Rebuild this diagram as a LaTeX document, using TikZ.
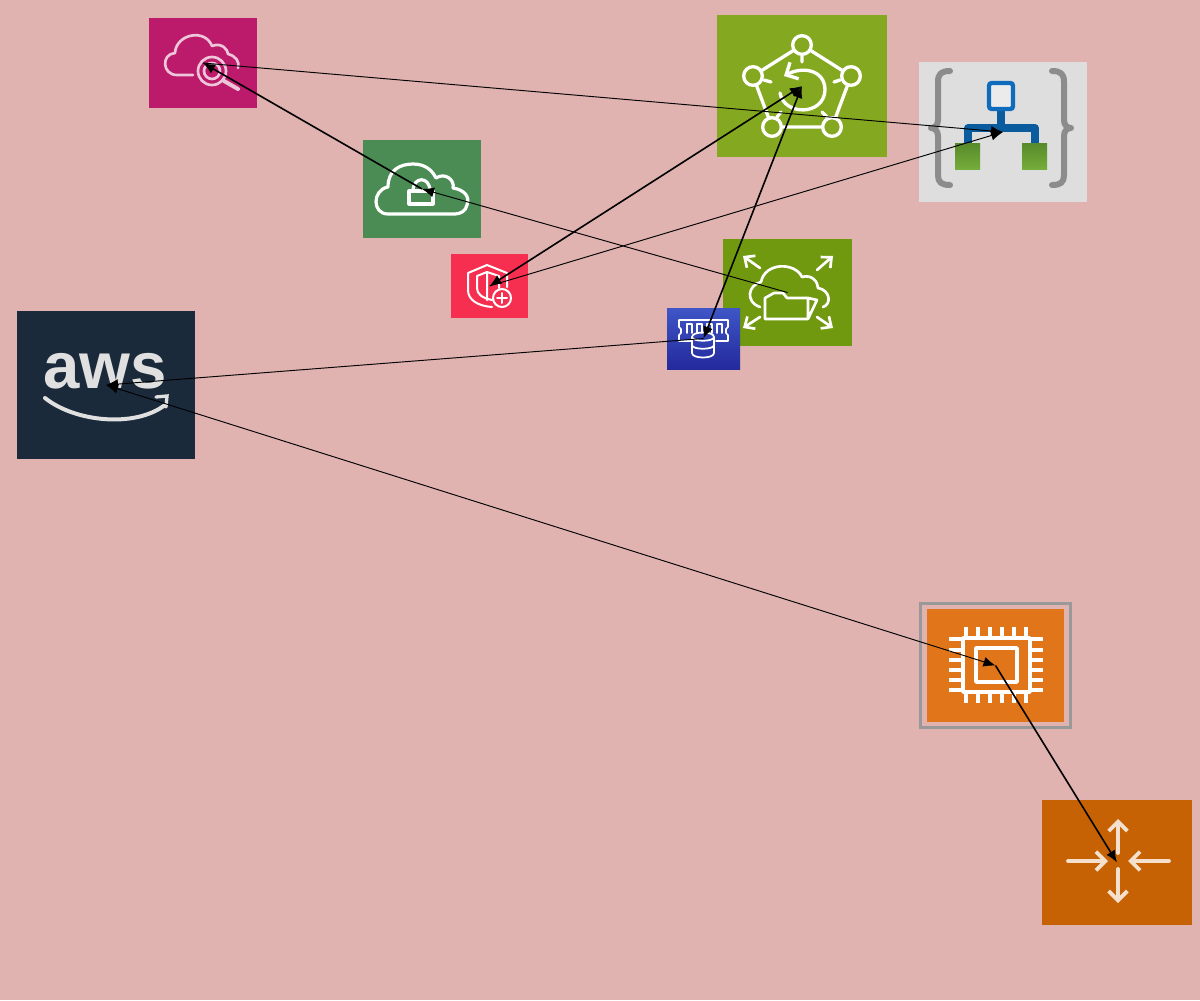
\documentclass[tikz,border=0pt]{standalone}
\usepackage{fontspec}
\usepackage{xcolor}
\usetikzlibrary{arrows, arrows.meta}
\usetikzlibrary{positioning}
\newfontfamily\awsfont{Liberation Sans}
\definecolor{pagepink}{HTML}{E0B2B0}
\definecolor{magentabox}{HTML}{BC1A6A}
\definecolor{lockgreen}{HTML}{4A8C54}
\definecolor{shieldred}{HTML}{F62F50}
\definecolor{limegreen}{HTML}{84A920}
\definecolor{foldergreen}{HTML}{70990F}
\definecolor{awsnavy}{HTML}{1B2A3B}
\definecolor{chiporange}{HTML}{E0751A}
\definecolor{routerorange}{HTML}{C66204}
\definecolor{bracegray}{HTML}{8C8C8C}
\definecolor{treeblue}{HTML}{0A5C9E}
\definecolor{topblue}{HTML}{0F6CBD}
\definecolor{memlow}{HTML}{232A9C}
\definecolor{memhigh}{HTML}{3F56C6}
\definecolor{leaflow}{HTML}{76AC3B}
\definecolor{leafhigh}{HTML}{578A2A}
\tikzset{
	iconbox/.style={inner sep=0pt, outer sep=0pt},
	glyph/.style={draw=white, line width=2pt, line cap=round, line join=round},
	barb/.style={-{Straight Barb[length=7pt,width=14pt]}},
	smallbarb/.style={-{Straight Barb[length=6pt,width=11pt]}},
	thinlink/.style={draw=black, line width=.7pt, -{Latex[length=9pt,width=7.5pt]}},
	thicklink/.style={draw=black, line width=1.2pt, -{Latex[length=9pt,width=7.5pt]}},
	bothlink/.style={draw=black, line width=1.2pt, {Latex[length=9pt,width=7.5pt]}-{Latex[length=9pt,width=7.5pt]}},
}
\begin{document}
\begin{tikzpicture}[x=.75pt,y=-.75pt]
	\useasboundingbox (0,0) rectangle (1200,1000);
	\fill[pagepink] (0,0) rectangle (1200,1000);
	%draw boxes
	\node[iconbox, fill=magentabox, minimum width=81pt, minimum height=67.5pt] (search) at (203,63) {};
	\node[iconbox, fill=lockgreen, minimum width=88.5pt, minimum height=73.5pt] (lockcloud) at (422,189) {};
	\node[iconbox, fill=shieldred, minimum width=57.75pt, minimum height=48pt] (shield) at (489.5,286) {};
	\node[iconbox, fill=limegreen, minimum width=127.5pt, minimum height=106.5pt] (recovery) at (802,86) {};
	\node[iconbox, fill=black!13, minimum width=126pt, minimum height=105pt] (tree) at (1003,132) {};
	\node[iconbox, fill=foldergreen, minimum width=96.75pt, minimum height=80.25pt] (folder) at (787.5,292.5) {};
	\node[iconbox, bottom color=memlow, top color=memhigh, minimum width=54.75pt, minimum height=45.75pt] (memdb) at (703.5,338.5) {};
	\node[iconbox, fill=awsnavy, minimum width=133.5pt, minimum height=111pt] (aws) at (106,385) {};
	\node[iconbox, draw=black!40, line width=2.2pt, minimum width=112.5pt, minimum height=93pt] (ec2) at (995.5,665.5) {};
	\node[iconbox, fill=chiporange, minimum width=102.75pt, minimum height=84.75pt] (ec2core) at (995.5,665.5) {};
	\node[iconbox, fill=routerorange, minimum width=112.5pt, minimum height=93.75pt] (router) at (1117,862.5) {};
	%search glyph
	\begin{scope}[glyph/.append style={draw=magentabox!25!white}]
		\draw[glyph] (193,75) -- (177,75) .. controls (162,75) and (161,54) .. (175,53) .. controls (176,34) and (205,28) .. (212,46) .. controls (222,42) and (228,50) .. (228,54) .. controls (236,56) and (240,62) .. (238,68);
		\draw[glyph] (212,71) circle[radius=10.5pt];
		\draw[glyph] (212,71) circle[radius=6pt];
		\draw[glyph, line width=3pt] (224,81) -- (238,89);
	\end{scope}
	%lock glyph
	\draw[glyph, line width=2.4pt] (388,214) .. controls (372,214) and (372,190) .. (388,187) .. controls (388,170) and (400,164) .. (413,164) .. controls (425,164) and (432,170) .. (436,178) .. controls (445,172) and (455,180) .. (453,188) .. controls (465,190) and (470,197) .. (467,205) .. controls (466,211) and (460,214) .. (455,214) -- cycle;
	\draw[glyph, line width=2.4pt] (409,191) rectangle (433,204);
	\draw[glyph, line width=2.4pt] (413,191) .. controls (413,176) and (430,176) .. (430,191);
	%shield glyph
	\draw[glyph, line width=1.5pt] (507,287) -- (507,273) -- (487,265) -- (468,273) -- (468,290) .. controls (468,300) and (478,306) .. (492,307);
	\draw[glyph, line width=1.5pt] (492,300) .. controls (482,298) and (477,294) .. (477,288) -- (477,276) -- (487,272) -- (487,300);
	\draw[glyph, line width=1.5pt] (487,272) -- (499,276) -- (499,288);
	\draw[glyph, line width=1.5pt] (502,298) circle[radius=6.75pt];
	\draw[glyph, line width=1.5pt] (497,298) -- (507,298) (502,293) -- (502,303);
	%recovery glyph
	\draw[glyph, line width=2.5pt] (802,45) -- (753,76) -- (772,127) -- (832,127) -- (851,76) -- cycle;
	\foreach \px/\py in {802/45,753/76,851/76,772/127,832/127}
		\draw[glyph, line width=2.5pt, fill=limegreen] (\px,\py) circle[radius=7pt];
	\draw[glyph, line width=2.5pt] (802,56) -- (802,62) (764,80) -- (771,82) (840,80) -- (834,82) (777,117) -- (781,112) (827,117) -- (822,112);
	\draw[glyph, line width=2.5pt, barb] (780,93) .. controls (784,116) and (824,116) .. (825,90) .. controls (825,70) and (803,66) .. (784,76);
	%tree glyph
	\draw[bracegray, line width=4.5pt, line join=round, line cap=round] (950,71) .. controls (941,71) and (938,74) .. (938,82) -- (938,120) .. controls (938,125) and (935,128) .. (931,128) .. controls (935,128) and (938,131) .. (938,136) -- (938,175) .. controls (938,182) and (941,185) .. (950,185);
	\draw[bracegray, line width=4.5pt, line join=round, line cap=round] (1052,71) .. controls (1061,71) and (1064,74) .. (1064,82) -- (1064,120) .. controls (1064,125) and (1067,128) .. (1071,128) .. controls (1067,128) and (1064,131) .. (1064,136) -- (1064,175) .. controls (1064,182) and (1061,185) .. (1052,185);
	\draw[treeblue, line width=5.5pt, line join=round] (1001,111) -- (1001,128) (968,143) -- (968,128) -- (1035,128) -- (1035,143);
	\draw[topblue, line width=3.2pt, rounded corners=2pt, fill=black!8] (989,83) rectangle (1013,109);
	\node[iconbox, bottom color=leaflow, top color=leafhigh, minimum width=18.75pt, minimum height=19.5pt] (leftleaf) at (967.5,156) {};
	\node[iconbox, bottom color=leaflow, top color=leafhigh, minimum width=18.75pt, minimum height=19.5pt] (rightleaf) at (1034.5,156) {};
	%folder glyph
	\draw[glyph, smallbarb] (760,268) -- (743,256);
	\draw[glyph, smallbarb] (817,270) -- (833,256);
	\draw[glyph, smallbarb] (760,317) -- (743,328);
	\draw[glyph, smallbarb] (817,317) -- (833,328);
	\draw[glyph] (760,307) .. controls (745,302) and (748,285) .. (761,282) .. controls (765,262) and (795,262) .. (802,277) .. controls (812,274) and (818,282) .. (818,288) .. controls (830,290) and (832,304) .. (823,307);
	\draw[glyph, fill=foldergreen] (765,319) -- (765,298) -- (774,293) -- (783,293) -- (787,298) -- (808,298) -- (808,319) -- cycle (808,319) -- (817,300) -- (808,298);
	%memory glyph
	\draw[glyph, line width=1.2pt] (691,341) -- (679,341) -- (679,335) -- (681,333) -- (681,329) -- (679,327) -- (679,320) -- (728,320) -- (728,327) -- (726,329) -- (726,333) -- (728,335) -- (728,341) -- (716,341);
	\foreach \tx in {687,697,707,717}
		\draw[glyph, line width=1.2pt] (\tx,333) -- (\tx,324) -- (\tx+5,324) -- (\tx+5,333);
	\draw[glyph, line width=1.3pt] (692,337) .. controls (692,331) and (714,331) .. (714,337) .. controls (714,342) and (692,342) .. (692,337) -- (692,353) .. controls (692,359) and (714,359) .. (714,353) -- (714,337);
	\draw[glyph, line width=1.3pt] (692,345) .. controls (692,350) and (714,350) .. (714,345);
	%aws glyph
	\node[iconbox, anchor=base, text=black!12, font=\awsfont\bfseries\fontsize{49}{49}\selectfont] (awstext) at (105,388) {aws};
	\draw[black!12, line width=3pt, line cap=round] (45,398) .. controls (75,422) and (135,428) .. (165,405);
	\draw[black!12, line width=2.5pt, line cap=round] (156,397) -- (167,396) -- (166,407);
	%chip glyph
	\draw[glyph, line width=2.6pt, line cap=butt] (963,638) rectangle (1030,692);
	\draw[glyph, line width=2.6pt, line cap=butt] (976,648) rectangle (1017,682);
	\foreach \pinx in {966,978,990,1002,1014,1026}
		\draw[glyph, line width=2.6pt, line cap=butt] (\pinx,627) -- (\pinx,638) (\pinx,692) -- (\pinx,703);
	\foreach \piny in {639,650,660,670,680,690}
		\draw[glyph, line width=2.6pt, line cap=butt] (949,\piny) -- (963,\piny) (1030,\piny) -- (1043,\piny);
	%router glyph
	\begin{scope}[glyph/.append style={draw=routerorange!20!white, line width=2.8pt}]
		\draw[glyph, barb] (1068,861) -- (1108,861);
		\draw[glyph, barb] (1169,861) -- (1128,861);
		\draw[glyph, barb] (1118,853) -- (1118,819);
		\draw[glyph, barb] (1118,869) -- (1118,903);
	\end{scope}
	%add links
	\draw[thinlink] (search.center) -- (tree.center);
	\draw[thicklink] (lockcloud.center) -- (search.center);
	\draw[thinlink] (folder.center) -- (lockcloud.center);
	\draw[thinlink] (shield.center) -- (tree.center);
	\draw[bothlink] (shield.center) -- (recovery.center);
	\draw[bothlink] (memdb.center) -- (recovery.center);
	\draw[thinlink] (memdb.center) -- (aws.center);
	\draw[thinlink, {Latex[length=9pt,width=7.5pt]}-{Latex[length=9pt,width=7.5pt]}] (aws.center) -- (ec2.center);
	\draw[thicklink] (ec2.center) -- (router.center);
\end{tikzpicture}
\end{document}
